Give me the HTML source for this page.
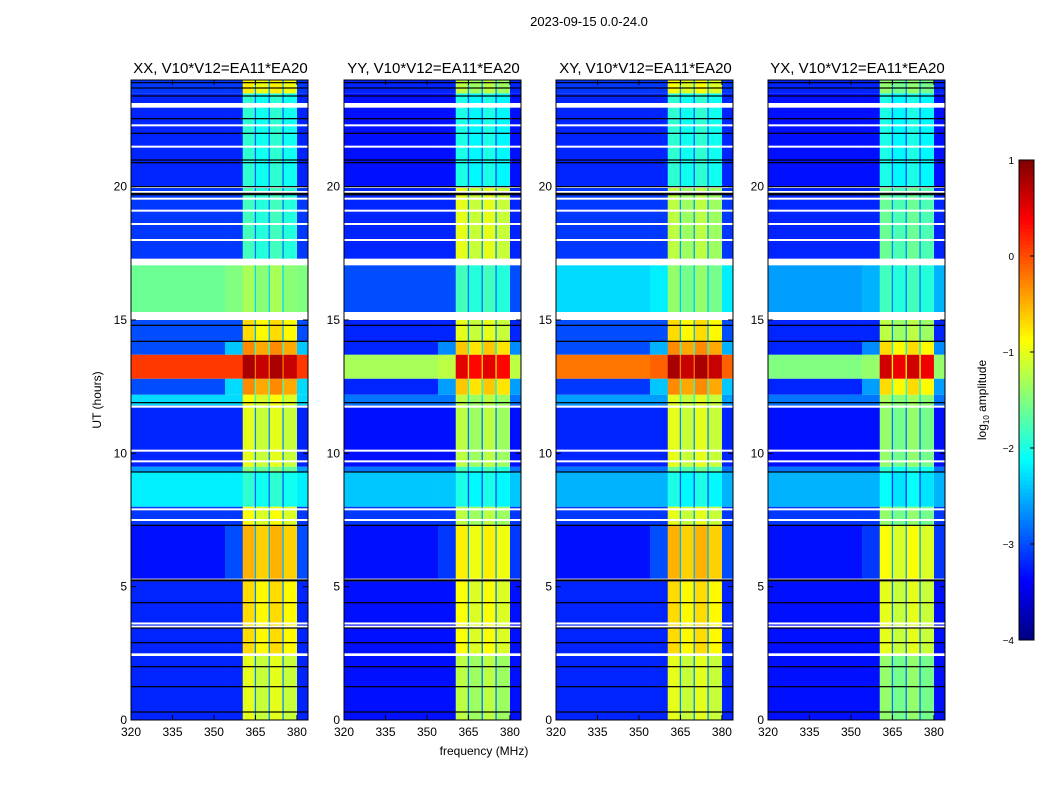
<!DOCTYPE html>
<html><head><meta charset="utf-8">
<style>
body{margin:0;background:#fff;font-family:"Liberation Sans",sans-serif;}
svg{display:block}
text{font-family:"Liberation Sans",sans-serif;}
</style></head>
<body>
<svg id="chart" width="1050" height="800" viewBox="0 0 1050 800">
<text x="589" y="26" font-size="13" text-anchor="middle">2023-09-15 0.0-24.0</text>
<text x="484" y="755" font-size="12" text-anchor="middle">frequency (MHz)</text>
<text transform="translate(101,400) rotate(-90)" font-size="12" text-anchor="middle">UT (hours)</text>
<g id="panels"></g>
<g id="cbar"></g>
<text transform="translate(986,400) rotate(-90)" font-size="12" text-anchor="middle">log<tspan font-size="8" dy="3">10</tspan><tspan dy="-3"> amplitude</tspan></text>
</svg>
<script>
const panelTitles = ["XX, V10*V12=EA11*EA20","YY, V10*V12=EA11*EA20","XY, V10*V12=EA11*EA20","YX, V10*V12=EA11*EA20"];
const segStart = [0,2.5,5.3,7.3,8.0,9.3,9.5,11.8,12.2,12.8,13.7,14.2,15.3,17.3,20,23.5];
const segEnd   = [2.4,5.2,7.3,8.0,9.3,9.5,11.8,12.2,12.8,13.7,14.2,15.0,17.05,19.95,23.5,24];
const bgXX   = [-3.2,-3.2,-3.3,-3.1,-2.2,-2.6,-3.2,-2.3,-3.0,0.1,-3.0,-3.0,-1.6,-3.1,-3.2,-3.1];
const midXX  = [-3.2,-3.2,-3.0,-3.1,-2.2,-2.6,-3.2,-2.3,-2.3,0.1,-2.4,-3.0,-1.5,-3.1,-3.2,-3.1];
const bandXX = [-1.0,-0.7,-0.5,-0.9,-1.9,-1.5,-1.0,-0.9,-0.3,0.8,-0.3,-0.7,-1.3,-1.8,-1.9,-0.8];
const bgYY   = [-3.3,-3.3,-3.3,-3.1,-2.4,-2.8,-3.3,-2.8,-3.2,-1.3,-3.2,-3.2,-3.0,-3.2,-3.3,-3.2];
const midYY  = [-3.3,-3.3,-3.1,-3.1,-2.4,-2.8,-3.3,-2.8,-2.6,-1.2,-2.7,-3.2,-3.0,-3.2,-3.3,-3.2];
const bandYY = [-1.2,-0.9,-0.8,-1.2,-2.0,-1.8,-1.2,-1.2,-0.6,0.5,-0.6,-1.0,-1.8,-1.0,-2.0,-1.2];
const bgXY   = [-3.2,-3.2,-3.3,-3.1,-2.5,-2.8,-3.2,-2.6,-3.1,-0.2,-3.0,-3.0,-2.3,-3.1,-3.2,-3.1];
const midXY  = [-3.2,-3.2,-3.0,-3.1,-2.5,-2.8,-3.2,-2.6,-2.4,-0.1,-2.5,-3.0,-2.2,-3.1,-3.2,-3.1];
const bandXY = [-1.0,-0.7,-0.5,-1.0,-2.0,-1.6,-1.0,-1.0,-0.3,0.8,-0.3,-0.7,-1.4,-1.2,-1.9,-0.9];
const bgYX   = [-3.3,-3.3,-3.3,-3.1,-2.5,-2.8,-3.3,-2.8,-3.2,-1.5,-3.2,-3.2,-2.6,-3.2,-3.3,-3.2];
const midYX  = [-3.3,-3.3,-3.1,-3.1,-2.5,-2.8,-3.3,-2.8,-2.6,-1.4,-2.7,-3.2,-2.5,-3.2,-3.3,-3.2];
const bandYX = [-1.4,-1.0,-0.9,-1.4,-2.1,-1.9,-1.4,-1.3,-0.7,0.6,-0.7,-1.2,-1.8,-1.6,-2.0,-1.4];
const bandEdges = [360.4,365,370,375,380];
const whiteLines = [3.5,3.62,7.5,7.9,10.1,9.7,11.75,18.0,18.6,19.1,19.55,19.8,21.5,22.3,23.0,23.05,23.1];
const blackLines = [0.3,1.25,2.0,2.9,3.45,4.4,5.22,5.25,7.3,9.3,11.9,14.2,14.8,19.7,19.75,20.0,20.9,21.0,22.0,22.55,23.4,23.7,23.9];
const xTicks = [320,335,350,365,380];
const yTicks = [0,5,10,15,20];
const cbTicks = [1,0,-1,-2,-3,-4];

const panelsData = [[bgXX,midXX,bandXX],[bgYY,midYY,bandYY],[bgXY,midXY,bandXY],[bgYX,midYX,bandYX]];
const panelX = [131,344,556,768], PW = 177, PT = 80, PB = 720;
const F0 = 320, F1 = 384, H1 = 24, VMIN = -4, VMAX = 1;
const NS = "http://www.w3.org/2000/svg";
function cl(v){return Math.max(0,Math.min(1,v));}
function jet(v){const t=cl((v-VMIN)/(VMAX-VMIN));
  const r=cl(Math.min(4*t-1.5,-4*t+4.5)),g=cl(Math.min(4*t-0.5,-4*t+3.5)),b=cl(Math.min(4*t+0.5,-4*t+2.5));
  return `rgb(${Math.round(r*255)},${Math.round(g*255)},${Math.round(b*255)})`;}
function mk(tag,attrs,parent){const e=document.createElementNS(NS,tag);for(const k in attrs)e.setAttribute(k,attrs[k]);parent.appendChild(e);return e;}
const root=document.getElementById('panels');
panelsData.forEach((d,pi)=>{
  const x0=panelX[pi];
  const xs=f=>x0+(f-F0)*PW/(F1-F0);
  const ys=h=>PB-h*(PB-PT)/H1;
  const g=mk('g',{},root);
  
  
  const [bg,mid,band]=d;
  segStart.forEach((s,i)=>{
    const y1=ys(segEnd[i]),y0=ys(s),h=y0-y1;
    const parts=[[F0,354,bg[i]],[354,bandEdges[0],mid[i]],[bandEdges[4],F1,mid[i]]];
    parts.forEach(p=>{const r=mk('rect',{x:xs(p[0]),y:y1,width:xs(p[1])-xs(p[0])+0.3,height:h,fill:jet(p[2])},g);
      
      });
    for(let k=0;k<4;k++){
      const r=mk('rect',{x:xs(bandEdges[k]),y:y1,width:xs(bandEdges[k+1])-xs(bandEdges[k]),height:h,fill:jet(band[i]-(k%2?0.15:0))},g);
      
      
      if(k>0){const s2=mk('rect',{x:xs(bandEdges[k])-0.7,y:y1,width:1.3,height:h,fill:jet(Math.min(band[i]-1.0,mid[i]+0.5))},g);
        
        }
    }
  });
  whiteLines.forEach(h=>{const l=mk('rect',{x:x0,y:ys(h)-1,width:PW,height:2,fill:'#fff'},g);
    
    });
  blackLines.forEach(h=>{const l=mk('rect',{x:x0,y:ys(h)-0.6,width:PW,height:1.2,fill:'#000'},g);
    
    });
  const fr=mk('rect',{x:x0,y:PT,width:PW,height:PB-PT,fill:'none',stroke:'#000','stroke-width':1},g);
  
  
  xTicks.forEach(t=>{const x=xs(t);
    mk('line',{x1:x,y1:PB,x2:x,y2:PB-5,stroke:'#000'},g);mk('line',{x1:x,y1:PT,x2:x,y2:PT+5,stroke:'#000'},g);
    const tx=mk('text',{x:x,y:PB+16,'font-size':12,'text-anchor':'middle'},g);tx.textContent=t;
    
    });
  yTicks.forEach(t=>{const y=ys(t);
    mk('line',{x1:x0,y1:y,x2:x0+5,y2:y,stroke:'#000'},g);mk('line',{x1:x0+PW,y1:y,x2:x0+PW-5,y2:y,stroke:'#000'},g);
    const tx=mk('text',{x:x0-4,y:y+4,'font-size':12,'text-anchor':'end'},g);tx.textContent=t;
    
    });
  const tt=mk('text',{x:x0+PW/2+1,y:PT-7,'font-size':15,'text-anchor':'middle'},g);tt.textContent=panelTitles[pi];
  
  
});
const cb=document.getElementById('cbar');const CX=1019,CW=15,CT=160,CB=640;
for(let i=0;i<120;i++){const v=VMIN+(i+0.5)/120*(VMAX-VMIN);const y=CB-(i+1)*(CB-CT)/120;
  mk('rect',{x:CX,y:y,width:CW,height:(CB-CT)/120+0.5,fill:jet(v)},cb);}
mk('rect',{x:CX,y:CT,width:CW,height:CB-CT,fill:'none',stroke:'#000'},cb);
cbTicks.forEach(t=>{const y=CB-(t-VMIN)/(VMAX-VMIN)*(CB-CT);
  mk('line',{x1:CX+CW-4,y1:y,x2:CX+CW,y2:y,stroke:'#000'},cb);
  const tx=mk('text',{x:CX-5,y:y+4,'font-size':10,'text-anchor':'end'},cb);tx.textContent=t<0?'\u2212'+Math.abs(t):t;
  
  });
</script>
</body></html>
